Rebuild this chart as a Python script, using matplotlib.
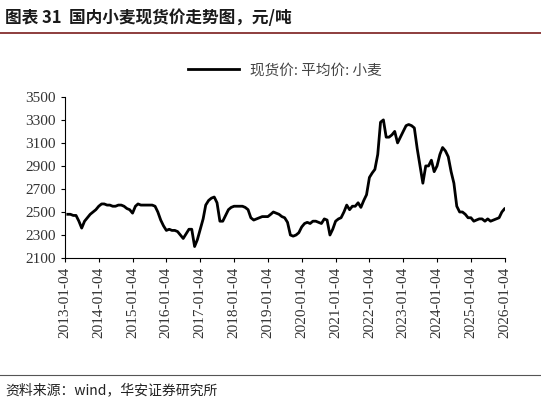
import matplotlib
matplotlib.use("Agg")
import matplotlib.pyplot as plt
import pandas as pd

plt.rcParams['font.family'] = ['Liberation Serif', 'Noto Sans CJK SC']

dates = pd.date_range("2013-01-04", periods=157, freq="MS") + pd.Timedelta(days=3)
prices = [
 2480,2480,2470,2470,2420,2360,2420,2450,2480,2500,2520,2550,
 2570,2570,2560,2560,2550,2550,2560,2560,2550,2530,2520,2490,
 2550,2570,2560,2560,2560,2560,2560,2550,2500,2430,2380,2340,
 2350,2340,2340,2330,2300,2270,2310,2350,2350,2200,2260,2350,
 2440,2560,2600,2620,2630,2580,2420,2420,2470,2520,2540,2550,
 2550,2550,2550,2540,2520,2450,2430,2440,2450,2460,2460,2460,
 2480,2500,2490,2480,2460,2450,2410,2300,2290,2300,2320,2370,
 2400,2410,2400,2420,2420,2410,2400,2440,2430,2300,2350,2420,
 2440,2450,2500,2560,2520,2550,2550,2580,2540,2600,2650,2800,
 2840,2870,3000,3280,3300,3150,3150,3170,3200,3100,3150,3200,
 3250,3260,3250,3230,3050,2900,2750,2900,2900,2950,2850,2900,
 3000,3060,3030,2980,2850,2750,2550,2500,2500,2480,2450,2450,
 2420,2430,2440,2440,2420,2440,2420,2430,2440,2450,2500,2530,
 2530]
tick_labels = [f"{y}-01-04" for y in range(2013, 2027)]
tick_dates = pd.to_datetime(tick_labels)

fig = plt.figure(figsize=(5.41, 4.07), dpi=100)
ax = fig.add_axes([0.12, 0.366, 0.813, 0.396])
ax.plot(dates, prices, color='black', lw=2, label='现货价: 平均价: 小麦')
ax.set_ylim(2100, 3500)
ax.set_yticks(range(2100, 3501, 200))
ax.set_xlim(tick_dates[0], tick_dates[-1])
ax.set_xticks(tick_dates)
ax.set_xticklabels(tick_labels, rotation=90, fontsize=11, color='#333333')
for t in ax.get_yticklabels():
    t.set_fontsize(11); t.set_color('#333333')
for s in ['top', 'right']:
    ax.spines[s].set_visible(False)
ax.tick_params(direction='out', length=3)
leg = ax.legend(loc='lower center', bbox_to_anchor=(0.5, 1.04), frameon=False,
                prop={'family': 'Noto Sans CJK SC', 'size': 10.5}, handlelength=3.5)
for t in leg.get_texts():
    t.set_color('#444444')

fig.text(0.01, 0.955, '图表 31  国内小麦现货价走势图，元/吨', fontsize=12, fontweight='bold',
         family='Noto Sans CJK SC', color='#1a1a1a', va='center')
fig.add_artist(plt.Line2D([0.0, 1.0], [0.92, 0.92], color='#7a1d1d', lw=1.2))
fig.add_artist(plt.Line2D([0.0, 1.0], [0.078, 0.078], color='#555555', lw=0.8))
fig.text(0.01, 0.04, '资料来源：wind，华安证券研究所', fontsize=10,
         family='Noto Sans CJK SC', color='#222222', va='center')
fig.savefig('out.png', dpi=100)
